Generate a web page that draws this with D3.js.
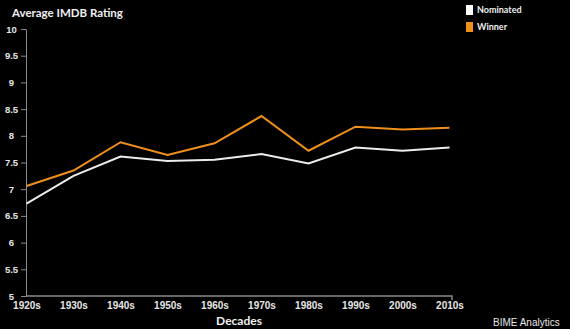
<!DOCTYPE html>
<html><head><meta charset="utf-8">
<script src="https://cdn.jsdelivr.net/npm/d3@7"></script>
<style>
html,body{margin:0;padding:0;background:#000;}
svg{display:block;font-family:Lato,"Open Sans",sans-serif;}
</style></head>
<body>
<script>
const decades = ["1920s","1930s","1940s","1950s","1960s","1970s","1980s","1990s","2000s","2010s"];
const nominated = [6.73,7.25,7.61,7.53,7.55,7.66,7.48,7.78,7.72,7.78];
const winner = [7.06,7.35,7.88,7.64,7.86,8.37,7.72,8.17,8.12,8.15];
const yTicks = [5,5.5,6,6.5,7,7.5,8,8.5,9,9.5,10];
const seriesNames = ["Nominated","Winner"];
const seriesColors = ["#ececec","#f0901a"];

const W = 570, H = 329;
const svg = d3.select("body").append("svg").attr("width", W).attr("height", H);
svg.append("rect").attr("width", W).attr("height", H).attr("fill", "#000");

const x = d3.scalePoint().domain(decades).range([26.5, 449.5]);
const y = d3.scaleLinear().domain([5, 10]).range([296, 29]);

// y axis
const yAxis = svg.append("g").attr("transform", "translate(26,0)")
  .call(d3.axisLeft(y).tickValues(yTicks).tickFormat(d => d).tickSize(5).tickSizeOuter(0));
yAxis.select(".domain").attr("stroke", "#8a8a8a");
yAxis.selectAll(".tick line").attr("stroke", "#8a8a8a");
yAxis.selectAll(".tick text").attr("fill", "#e6e6e6").attr("font-size", 9.5).attr("font-weight", 700)
  .attr("text-anchor", "middle").attr("x", -14.5);

// x axis
const xAxis = svg.append("g").attr("transform", "translate(0,296)")
  .call(d3.axisBottom(x).tickSize(0).tickSizeOuter(0));
xAxis.select(".domain").attr("stroke", "#8a8a8a").attr("stroke-width", 1.5)
  .attr("d", "M26,0H452V4");
xAxis.selectAll(".tick text").attr("fill", "#e6e6e6").attr("font-size", 10).attr("font-weight", 700).attr("dy", "0.71em").attr("y", 6);

const line = d3.line().x((d, i) => x(decades[i])).y(d => y(d));
[nominated, winner].forEach((s, k) => {
  svg.append("path").datum(s).attr("d", line).attr("fill", "none")
    .attr("stroke", seriesColors[k]).attr("stroke-width", 2).attr("stroke-linejoin", "miter");
});

// titles
svg.append("text").attr("x", 12).attr("y", 17).attr("fill", "#f0f0f0")
  .attr("font-size", 11.5).attr("font-weight", 700).text("Average IMDB Rating");
svg.append("text").attr("x", 239).attr("y", 325).attr("text-anchor", "middle").attr("fill", "#f0f0f0")
  .attr("font-size", 12).attr("font-weight", 700).text("Decades");
svg.append("text").attr("x", 493).attr("y", 326).attr("fill", "#e6e6e6")
  .attr("font-family", "'Liberation Sans',Arial,sans-serif")
  .attr("font-size", 10).text("BIME Analytics");

// legend
seriesNames.forEach((n, k) => {
  const g = svg.append("g").attr("transform", `translate(466,${5 + k * 17})`);
  g.append("rect").attr("width", 7).attr("height", 10).attr("fill", k === 0 ? "#ffffff" : seriesColors[k]);
  g.append("text").attr("x", 11).attr("y", 7.5).attr("fill", "#f0f0f0")
    .attr("font-size", 9).attr("font-weight", 700).text(n);
});
</script>
</body></html>
